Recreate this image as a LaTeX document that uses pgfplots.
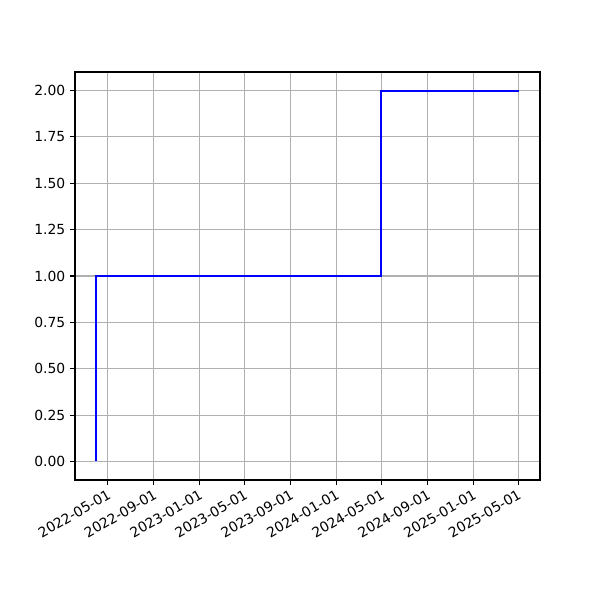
\documentclass[border=0pt]{standalone}
\usepackage{fontspec}
\setmainfont{DejaVu Sans}
\usepackage{pgfplots}
\pgfplotsset{compat=1.18}
\begin{document}
\begin{tikzpicture}
\begin{axis}[
  scale only axis,
  width=334.8pt, height=293.76pt,
  at={(0,0)}, anchor=south west,
  xmin=32.55, xmax=1274.45,
  ymin=-0.1, ymax=2.1,
  xtick={120,243,365,485,608,730,851,974,1096,1216},
  xticklabels={2022-05-01,2022-09-01,2023-01-01,2023-05-01,2023-09-01,2024-01-01,2024-05-01,2024-09-01,2025-01-01,2025-05-01},
  ytick={0,0.25,0.5,0.75,1,1.25,1.5,1.75,2},
  yticklabel style={/pgf/number format/fixed,/pgf/number format/fixed zerofill,/pgf/number format/precision=2},
  /pgf/number format/assume math mode=true,
  xticklabel style={rotate=30, anchor=north east, inner sep=2pt, font=\fontsize{10}{12}\selectfont},
  yticklabel style={font=\fontsize{10}{12}\selectfont},
  grid=major,
  grid style={color=black!31, line width=0.8pt},
  axis line style={line width=0.8pt},
  tick style={black, line width=0.8pt},
  tick align=outside,
  major tick length=3.5pt,
  xtick pos=bottom, ytick pos=left,
]
\addplot[blue, line width=1.5pt, line join=miter] coordinates {
  (89,0) (89,1) (851,1) (851,2) (1218,2)
};
\end{axis}
\useasboundingbox (-54pt,-86.4pt) rectangle (378pt,345.6pt);
\end{tikzpicture}
\end{document}
